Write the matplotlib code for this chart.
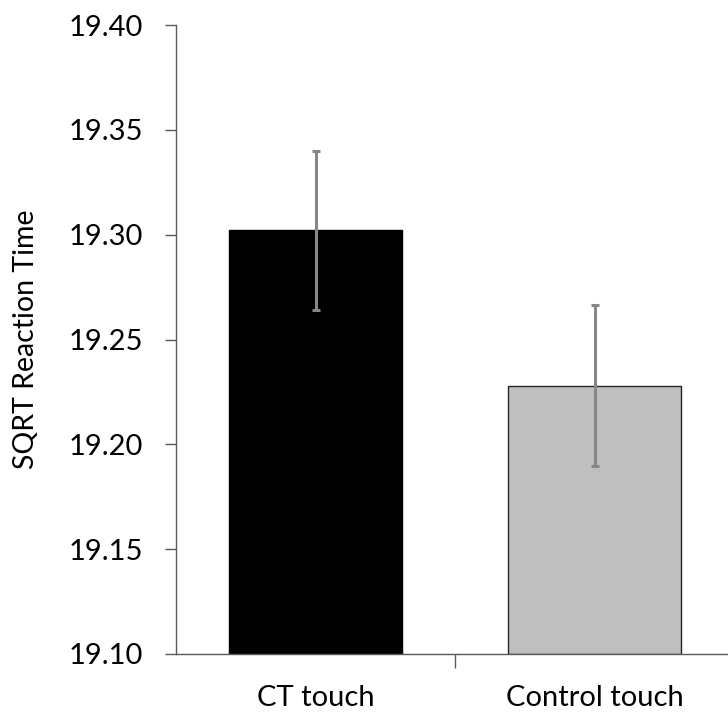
import matplotlib
matplotlib.use("Agg")
import matplotlib.pyplot as plt

categories = ["CT touch", "Control touch"]
values = [19.302, 19.228]
errors = [0.038, 0.0385]
colors = ["#000000", "#bfbfbf"]
yticks = [19.10, 19.15, 19.20, 19.25, 19.30, 19.35, 19.40]

plt.rcParams['font.family'] = ['Lato', 'DejaVu Sans']

fig = plt.figure(figsize=(7.28, 7.13), dpi=100)
W, H = 728, 713
left, right, top, bottom = 176, 734, 25, 654
ax = fig.add_axes([left / W, 1 - bottom / H, (right - left) / W, (bottom - top) / H])

x = [0, 1]
ax.bar(x, [v - yticks[0] for v in values], bottom=yticks[0], width=0.62,
       color=colors, edgecolor=["#000000", "#262626"], linewidth=1.0, zorder=2)
ax.errorbar(x, values, yerr=errors, fmt='none', ecolor="#878787",
            elinewidth=2.2, capsize=3, capthick=2.2, zorder=3)

ax.set_xlim(-0.5, 1.5)
ax.set_ylim(yticks[0], yticks[-1])
ax.set_yticks(yticks)
ax.set_yticklabels([f"{t:.2f}" for t in yticks], fontsize=21)
ax.set_xticks([0.5])
ax.set_xticklabels([""])
ax.set_xticks(x, minor=True)
ax.set_xticklabels(categories, minor=True, fontsize=21)
ax.tick_params(axis='x', which='minor', length=0, pad=22)
ax.tick_params(axis='x', which='major', length=10, width=1, color="#595959", direction='out')
ax.tick_params(axis='y', length=8, width=1, color="#595959", direction='out', pad=16)

for s in ['top', 'right']:
    ax.spines[s].set_visible(False)
for s in ['left', 'bottom']:
    ax.spines[s].set_color("#595959")
    ax.spines[s].set_linewidth(1.0)

ax.set_ylabel("SQRT Reaction Time", fontsize=20.5)
ax.yaxis.set_label_coords((39 - left) / (right - left), 0.5)

fig.savefig("out.png", dpi=100)
